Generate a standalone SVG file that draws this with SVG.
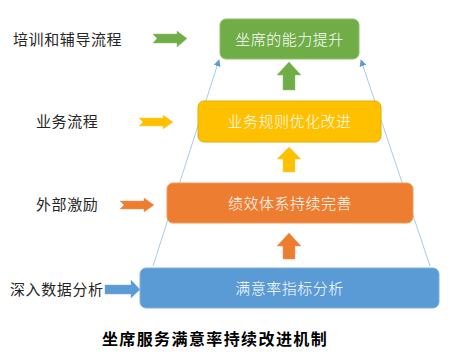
<svg xmlns="http://www.w3.org/2000/svg" width="450" height="356" viewBox="0 0 450 356">
<defs>
<style>
.lbl{font-family:"Noto Sans CJK SC","Noto Sans",sans-serif;font-size:15px;fill:#262626;letter-spacing:0.6px}
.bt{font-family:"Noto Sans CJK SC","Noto Sans",sans-serif;font-size:15px;font-weight:300;fill:#ffffff;text-anchor:middle;letter-spacing:0.5px}
.title{font-family:"Noto Sans CJK SC","Noto Sans",sans-serif;font-size:16px;font-weight:bold;fill:#000;text-anchor:middle;letter-spacing:1.4px}
.conn{stroke:#a9cbea;stroke-width:1;fill:none}
</style>
<marker id="ah" viewBox="0 0 10 10" refX="9" refY="5" markerWidth="7" markerHeight="7" orient="auto" markerUnits="userSpaceOnUse">
<path d="M0,0 L10,5 L0,10 z" fill="#5b9bd5"/>
</marker>
</defs>
<rect width="450" height="356" fill="#ffffff"/>
<g id="connectors">
<line class="conn" x1="153" y1="266" x2="219" y2="60" marker-end="url(#ah)"/>
<line class="conn" x1="430" y1="266" x2="361" y2="60" marker-end="url(#ah)"/>
<path d="M153,34 L177,34 L177,31 L187,38.5 L177,47 L177,43 L153,43 L157,38.5 z" fill="#70ad47" stroke="#8cc168" stroke-width="0.5"/>
<path d="M139,118 L163,118 L163,115 L173,122 L163,129 L163,126 L139,126 L143,122 z" fill="#ffc000" stroke="#ffd24d" stroke-width="0.5"/>
<path d="M120,201 L144,201 L144,198 L154,205 L144,212 L144,209 L120,209 L124,205 z" fill="#ed7d31" stroke="#f29a5c" stroke-width="0.5"/>
<path d="M105,285 L131,285 L131,280 L140,289.5 L131,298 L131,294 L105,294 z" fill="#5b9bd5" stroke="#7fb1df" stroke-width="0.5"/>
<path d="M289,62 L301,75 L295,75 L295,90 L283,90 L283,75 L277,75 z" fill="#70ad47" stroke="#8cc168" stroke-width="0.5"/>
<path d="M289,147 L301,159 L295,159 L295,172 L283,172 L283,159 L277,159 z" fill="#ffc000" stroke="#ffd24d" stroke-width="0.5"/>
<path d="M289,233 L301,246 L295,246 L295,259 L283,259 L283,246 L277,246 z" fill="#ed7d31" stroke="#f29a5c" stroke-width="0.5"/>
</g>
<g id="n1">
<rect x="220" y="19" width="139" height="40" rx="6" fill="#70ad47" stroke="#8cc168" stroke-width="1"/>
<text class="bt" x="289.5" y="44.5">坐席的能力提升</text>
</g>
<g id="n2">
<rect x="198" y="101" width="183" height="41" rx="6" fill="#ffc000" stroke="#e5ad00" stroke-width="1"/>
<text class="bt" x="289.5" y="127">业务规则优化改进</text>
</g>
<g id="n3">
<rect x="167" y="183" width="246" height="40" rx="6" fill="#ed7d31" stroke="#f29a5c" stroke-width="1"/>
<text class="bt" x="290" y="208.5">绩效体系持续完善</text>
</g>
<g id="n4">
<rect x="140" y="268" width="299" height="40" rx="6" fill="#5b9bd5" stroke="#7fb1df" stroke-width="1"/>
<text class="bt" x="289.5" y="294">满意率指标分析</text>
</g>
<g id="labels">
<text class="lbl" x="13" y="45">培训和辅导流程</text>
<text class="lbl" x="36" y="127">业务流程</text>
<text class="lbl" x="36" y="210">外部激励</text>
<text class="lbl" x="10" y="295">深入数据分析</text>
</g>
<g id="title">
<text class="title" x="215" y="345">坐席服务满意率持续改进机制</text>
</g>
</svg>
